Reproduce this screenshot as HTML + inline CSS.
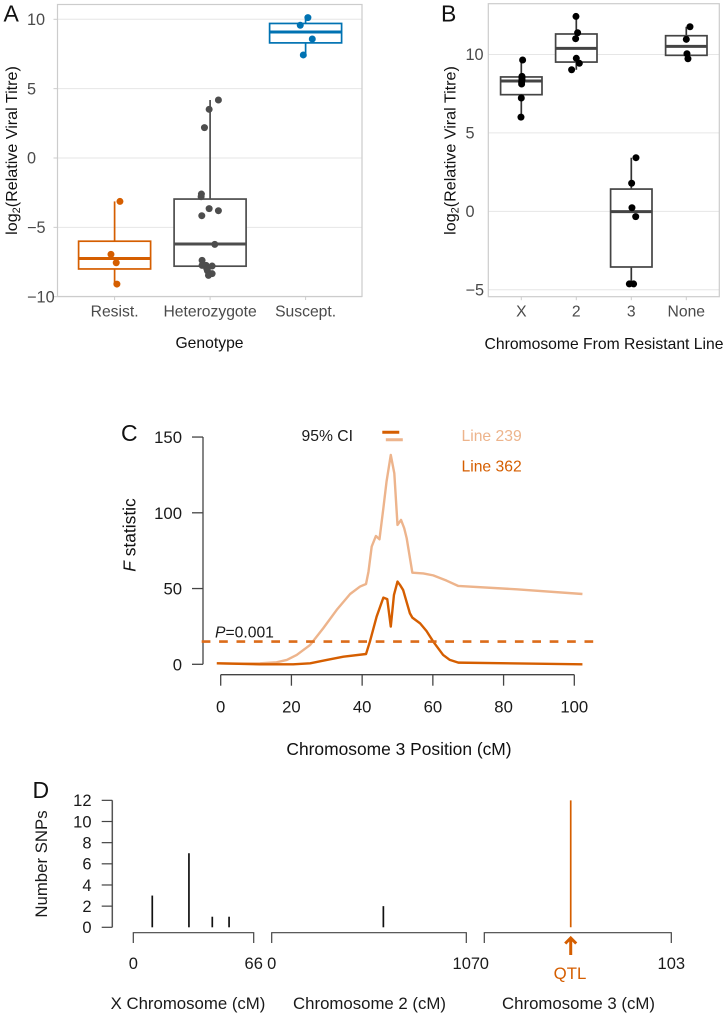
<!DOCTYPE html>
<html lang="en">
<head>
<meta charset="utf-8">
<title>Viral titre genotype and QTL figure</title>
<style>
html,body{margin:0;padding:0;background:#fff;width:728px;height:1016px;overflow:hidden}
svg{display:block}
text{font-family:"Liberation Sans",Arial,sans-serif}
.lt{font-size:23px;fill:#111}
.gt{font-size:16.3px;fill:#4a4a4a}
.gx{font-size:15.7px;fill:#4a4a4a}
.ti{font-size:15.7px;fill:#111}
.yt{font-size:16.1px;fill:#111}
.ct{font-size:17.4px;fill:#111}
.bt{font-size:16.7px;fill:#1a1a1a}
.dt{font-size:15.7px;fill:#1a1a1a}
.dl{font-size:16.8px;fill:#1a1a1a}
.dk{font-size:16.5px;fill:#1a1a1a}
</style>
</head>
<body>
<svg id="fig" xmlns="http://www.w3.org/2000/svg" width="728" height="1016" viewBox="0 0 728 1016">
<rect x="0" y="0" width="728" height="1016" fill="#fff"/>
<text class="lt" x="3.5" y="21.7">A</text>
<text class="lt" x="441" y="21.7">B</text>
<text class="lt" x="121" y="441">C</text>
<text class="lt" x="32.5" y="798">D</text>

<text class="yt" transform="translate(17,150.5) rotate(-90)" text-anchor="middle">log<tspan font-size="11" dy="3">2</tspan><tspan dy="-3">(Relative Viral Titre)</tspan></text>
<text class="ti" x="209.5" y="348" text-anchor="middle">Genotype</text>
<text class="yt" transform="translate(455.5,150.5) rotate(-90)" text-anchor="middle">log<tspan font-size="11" dy="3">2</tspan><tspan dy="-3">(Relative Viral Titre)</tspan></text>
<text class="ti" x="604" y="349" text-anchor="middle">Chromosome From Resistant Line</text>

<text class="ct" transform="translate(135.5,535) rotate(-90)" text-anchor="middle"><tspan font-style="italic">F</tspan> statistic</text>
<text class="ct" x="399" y="755" text-anchor="middle">Chromosome 3 Position (cM)</text>
<text class="dt" x="301.5" y="441" fill="#111">95% CI</text>
<text class="dt" x="461.5" y="441" style="fill:#EDB48C">Line 239</text>
<text class="dt" x="461.5" y="471.7" style="fill:#D55E00">Line 362</text>
<text class="dt" x="215" y="637.7"><tspan font-style="italic">P</tspan>=0.001</text>

<text class="dl" transform="translate(47,864) rotate(-90)" text-anchor="middle">Number SNPs</text>
<text class="dl" x="188" y="1009" text-anchor="middle">X Chromosome (cM)</text>
<text class="dl" x="369.5" y="1009" text-anchor="middle">Chromosome 2 (cM)</text>
<text class="dl" x="578.5" y="1009" text-anchor="middle">Chromosome 3 (cM)</text>
<text class="dl" x="570" y="979" text-anchor="middle" style="fill:#D55E00">QTL</text>
<g id="layer"></g>
</svg>
<script>
// ---------- Panel A data ----------
const aCategories = ['Resist.', 'Heterozygote', 'Suscept.'];
const aColors = ['#D55E00', '#4D4D4D', '#0072B2'];
const aYTicks = [10, 5, 0, -5, -10];
const aQ1 = [-8.0, -7.8, 8.3];
const aMedian = [-7.25, -6.2, 9.08];
const aQ3 = [-6.0, -2.96, 9.7];
const aWhiskerLow = [-9.09, -7.8, 7.43];
const aWhiskerHigh = [-3.13, 4.18, 10.12];
const aPointGroup = [0,0,0,0, 1,1,1,1,1,1,1,1,1,1,1,1,1,1,1,1,1, 2,2,2,2];
const aPointValue = [-3.13,-6.95,-7.55,-9.09, 4.18,3.51,2.19,-2.6,-2.79,-3.65,-3.8,-4.16,-6.23,-7.38,-7.74,-7.74,-7.79,-7.98,-8.13,-8.34,-8.46, 10.12,9.57,8.58,7.43];
const aPointJitter = [.056,-.038,.017,.024, .087,-.01,-.059,-.091,-.094,-.01,.087,-.087,.049,-.084,-.084,-.042,.021,-.035,-.028,.021,-.017, .024,-.056,.07,-.024];

// ---------- Panel B data ----------
const bCategories = ['X', '2', '3', 'None'];
const bYTicks = [10, 5, 0, -5];
const bQ1 = [7.44, 9.52, -3.55, 9.95];
const bMedian = [8.31, 10.39, -0.02, 10.52];
const bQ3 = [8.57, 11.31, 1.42, 11.2];
const bWhiskerLow = [6.01, 9.03, -4.63, 9.73];
const bWhiskerHigh = [9.65, 12.43, 3.42, 11.77];
const bPointGroup = [0,0,0,0,0,0,0,0, 1,1,1,1,1,1, 2,2,2,2,2,2, 3,3,3,3];
const bPointValue = [9.65,8.61,8.5,8.37,8.25,8.12,7.23,6.01, 12.43,11.39,11.01,9.76,9.44,9.03, 3.42,1.79,.23,-.34,-4.63,-4.63, 11.77,10.97,10.05,9.73];
const bPointJitter = [.024,.012,.012,.012,.006,.006,0,-.006, -.006,.024,-.012,0,.055,-.085, .085,.006,.012,.08,-.036,.042, .067,0,.012,.03];

// ---------- Panel C data ----------
const cXTicks = [0, 20, 40, 60, 80, 100];
const cYTicks = [0, 50, 100, 150];
const line239Pos = [-1.1,6.4,11.1,15.8,18.7,21.5,25.3,29,32.8,36.6,39.4,41.1,41.8,42.7,43.9,44.9,46,46.9,48.1,49.1,50,51,51.9,52.6,54.2,57.3,60.1,63.9,67.2,83.7,102.3];
const line239F = [.66,.44,.66,1.3,2.9,6.2,12.8,23.8,35.9,46.4,51.3,53,61.2,77.7,84.7,82.5,103,120.6,138.2,126,92,95.3,89.8,83.2,60.5,60,58.7,55.2,51.7,49.5,46.4];
const line362Pos = [-1.1,11.1,20.5,25.3,30,34.7,41.1,42.2,44.1,46,47.1,48.1,49,50,50.7,51.6,53.5,54.2,56.4,58.2,60.1,62.9,64.8,67.2,102.3];
const line362F = [.66,0,0,.66,2.9,5,6.8,15,31.5,44,43,24.9,45.8,54.6,52.4,49,33.7,30.8,27,22,15,6.2,2.9,1.1,0];
const significanceF = [15];
const ci362 = [45.7, 50.5];
const ci239 = [46.7, 51.5];

// ---------- Panel D data ----------
const dYTicks = [0, 2, 4, 6, 8, 10, 12];
const chrXPos = [10.4, 30.5, 43.3, 52.5];
const chrXCount = [3, 7, 1, 1];
const chr2Pos = [61.4];
const chr2Count = [2];
const chr3Pos = [47.6];
const chr3Count = [12];
const chrLengths = [66, 107, 103];

const NS = 'http://www.w3.org/2000/svg';
const layer = document.getElementById('layer');
function mk(tag, attrs, txt) {
  const el = document.createElementNS(NS, tag);
  for (const k in attrs) el.setAttribute(k, attrs[k]);
  if (txt !== undefined) el.textContent = txt;
  layer.appendChild(el);
  return el;
}
function fmt(v) { return v < 0 ? '\u2212' + Math.abs(v) : String(v); }
let el;

// ---------- axis functions ----------
const axY = v => 158 - 13.87 * v;
const axX = c => 114.6 + 95.5 * c;
const bxY = v => 211.33 - 15.68 * v;
const bxX = c => 521.3 + 55 * c;
const cxX = v => 220.7 + 3.536 * v;
const cxY = v => 664.3 - 1.515 * v;
const dxY = v => 927.3 - 10.58 * v;
const dxA = v => 133.3 + (253.7 - 133.3) * v / chrLengths[0];
const dxB = v => 271.7 + (466.3 - 271.7) * v / chrLengths[1];
const dxC = v => 484.3 + (671.3 - 484.3) * v / chrLengths[2];

// ---------- Panel A ----------
aYTicks.forEach(t => {
  el = mk('line', {x1: 57.5, x2: 362, y1: axY(t), y2: axY(t), stroke: '#E6E6E6', 'stroke-width': 1});
  
  
  el = mk('line', {x1: 53.5, x2: 57.5, y1: axY(t), y2: axY(t), stroke: '#CCCCCC', 'stroke-width': 1});
  
  
  el = mk('text', {x: 27, y: axY(t) + 5.6, 'text-anchor': 'start', class: 'gt'}, fmt(t));
  
  
});
el = mk('rect', {x: 57.5, y: 4.5, width: 304.5, height: 292, fill: 'none', stroke: '#CCCCCC', 'stroke-width': 1.2});


aCategories.forEach((c, i) => {
  const x = axX(i), col = aColors[i];
  el = mk('line', {x1: x, x2: x, y1: 296.5, y2: 300, stroke: '#CCCCCC', 'stroke-width': 1});
  
  
  el = mk('text', {x: x, y: 316.7, 'text-anchor': 'middle', class: 'gx'}, c);
  
  
  el = mk('line', {x1: x, x2: x, y1: axY(aWhiskerLow[i]), y2: axY(aWhiskerHigh[i]), stroke: col, 'stroke-width': 1.7});
  
  
  el = mk('rect', {x: x - 36, y: axY(aQ3[i]), width: 72, height: axY(aQ1[i]) - axY(aQ3[i]), fill: '#fff', stroke: col, 'stroke-width': 1.7});
  
  
  el = mk('line', {x1: x - 36, x2: x + 36, y1: axY(aMedian[i]), y2: axY(aMedian[i]), stroke: col, 'stroke-width': 3});
  
  
});
aPointValue.forEach((v, i) => {
  const g = aPointGroup[i];
  el = mk('circle', {cx: axX(g + aPointJitter[i]), cy: axY(v), r: 3.5, fill: aColors[g]});
  
  
});

// ---------- Panel B ----------
bYTicks.forEach(t => {
  el = mk('line', {x1: 488.3, x2: 719.3, y1: bxY(t), y2: bxY(t), stroke: '#E6E6E6', 'stroke-width': 1});
  
  
  el = mk('text', {x: 465.5, y: bxY(t) + 5.6, 'text-anchor': 'start', class: 'gt'}, fmt(t));
  
  
});
el = mk('rect', {x: 488.3, y: 3.7, width: 231, height: 293, fill: 'none', stroke: '#CCCCCC', 'stroke-width': 1.2});


bCategories.forEach((c, i) => {
  const x = bxX(i);
  el = mk('line', {x1: x, x2: x, y1: 296.7, y2: 300.2, stroke: '#CCCCCC', 'stroke-width': 1});
  
  
  el = mk('text', {x: x, y: 316.5, 'text-anchor': 'middle', class: 'gx'}, c);
  
  
  el = mk('line', {x1: x, x2: x, y1: bxY(bWhiskerLow[i]), y2: bxY(bWhiskerHigh[i]), stroke: '#333', 'stroke-width': 1.7});
  
  
  el = mk('rect', {x: x - 20.7, y: bxY(bQ3[i]), width: 41.4, height: bxY(bQ1[i]) - bxY(bQ3[i]), fill: '#fff', stroke: '#444', 'stroke-width': 1.7});
  
  
  el = mk('line', {x1: x - 20.7, x2: x + 20.7, y1: bxY(bMedian[i]), y2: bxY(bMedian[i]), stroke: '#444', 'stroke-width': 3});
  
  
});
bPointValue.forEach((v, i) => {
  el = mk('circle', {cx: bxX(bPointGroup[i] + bPointJitter[i]), cy: bxY(v), r: 3.5, fill: '#000'});
  
  
});

// ---------- Panel C ----------
el = mk('line', {x1: 203, x2: 203, y1: cxY(150), y2: cxY(0), stroke: '#444', 'stroke-width': 1.3});


cYTicks.forEach(t => {
  el = mk('line', {x1: 192, x2: 203, y1: cxY(t), y2: cxY(t), stroke: '#444', 'stroke-width': 1.3});
  
  
  el = mk('text', {x: 182, y: cxY(t) + 6, 'text-anchor': 'end', class: 'bt'}, t);
  
  
});
el = mk('line', {x1: cxX(0), x2: cxX(100), y1: 674.7, y2: 674.7, stroke: '#444', 'stroke-width': 1.3});


cXTicks.forEach(t => {
  el = mk('line', {x1: cxX(t), x2: cxX(t), y1: 674.7, y2: 685.7, stroke: '#444', 'stroke-width': 1.3});
  
  
  el = mk('text', {x: cxX(t), y: 712.7, 'text-anchor': 'middle', class: 'bt'}, t);
  
  
});
const pts = (xs, ys) => xs.map((x, i) => cxX(x).toFixed(2) + ',' + cxY(ys[i]).toFixed(2)).join(' ');
el = mk('polyline', {points: pts(line239Pos, line239F), fill: 'none', stroke: '#EDB48C', 'stroke-width': 2.4, 'stroke-linejoin': 'round'});


el = mk('polyline', {points: pts(line362Pos, line362F), fill: 'none', stroke: '#D55E00', 'stroke-width': 2.4, 'stroke-linejoin': 'round'});


el = mk('line', {x1: 201.7, x2: 594, y1: cxY(significanceF[0]), y2: cxY(significanceF[0]), stroke: '#DC6C1A', 'stroke-width': 2.6, 'stroke-dasharray': '8.7 8.7'});


el = mk('line', {x1: cxX(ci362[0]), x2: cxX(ci362[1]), y1: 432.3, y2: 432.3, stroke: '#D55E00', 'stroke-width': 3});


el = mk('line', {x1: cxX(ci239[0]), x2: cxX(ci239[1]), y1: 439.7, y2: 439.7, stroke: '#EDB48C', 'stroke-width': 3});



// ---------- Panel D ----------
el = mk('line', {x1: 112.3, x2: 112.3, y1: dxY(12), y2: dxY(0), stroke: '#555', 'stroke-width': 1.5});


dYTicks.forEach(t => {
  el = mk('line', {x1: 101.7, x2: 112.3, y1: dxY(t), y2: dxY(t), stroke: '#444', 'stroke-width': 1.2});
  
  
  el = mk('text', {x: 91.5, y: dxY(t) + 5.8, 'text-anchor': 'end', class: 'dk'}, t);
  
  
});
const bracket = (sx, len) => 'M' + sx(0) + ' 943V932.7H' + sx(len) + 'V943';
[dxA, dxB, dxC].forEach((sx, i) => {
  el = mk('path', {d: bracket(sx, chrLengths[i]), fill: 'none', stroke: '#444', 'stroke-width': 1.2});
  
  
  el = mk('text', {x: sx(0), y: 969, 'text-anchor': 'middle', class: 'dk'}, 0);
  
  
  el = mk('text', {x: sx(chrLengths[i]), y: 969, 'text-anchor': 'middle', class: 'dk'}, chrLengths[i]);
  
  
});
chrXPos.forEach((p, i) => {
  el = mk('line', {x1: dxA(p), x2: dxA(p), y1: dxY(0), y2: dxY(chrXCount[i]), stroke: '#111', 'stroke-width': 1.7});
  
  
});
chr2Pos.forEach((p, i) => {
  el = mk('line', {x1: dxB(p), x2: dxB(p), y1: dxY(0), y2: dxY(chr2Count[i]), stroke: '#111', 'stroke-width': 1.7});
  
  
});
chr3Pos.forEach((p, i) => {
  el = mk('line', {x1: dxC(p), x2: dxC(p), y1: dxY(0), y2: dxY(chr3Count[i]), stroke: '#D55E00', 'stroke-width': 1.7});
  
  
});
const qx = dxC(chr3Pos[0]);
el = mk('path', {d: 'M' + qx + ' 955V938M' + (qx - 5.5) + ' 943.5L' + qx + ' 938L' + (qx + 5.5) + ' 943.5', fill: 'none', stroke: '#D55E00', 'stroke-width': 3});


</script>
</body>
</html>
